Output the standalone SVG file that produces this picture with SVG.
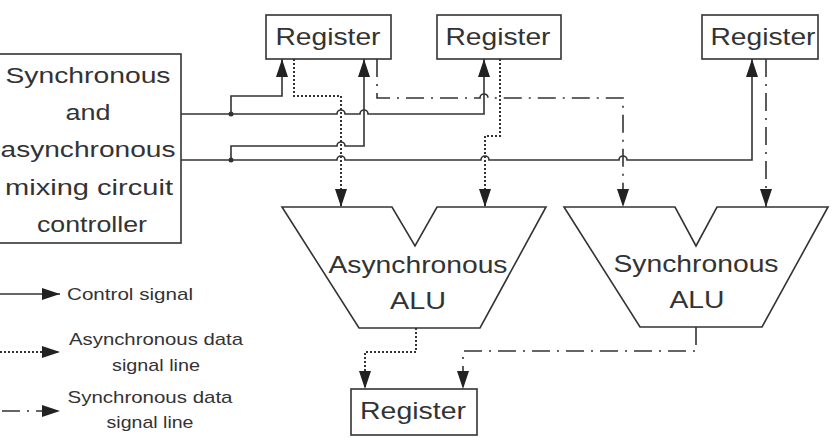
<svg xmlns="http://www.w3.org/2000/svg" width="838" height="438" viewBox="0 0 838 438">
<style>
text{font-family:"Liberation Sans",Arial,sans-serif;fill:#333}
.box{fill:#fff;stroke:#333;stroke-width:1.6}
.reg{font-size:24px}
.alu{font-size:24px}
.ctl{font-size:22px}
.leg{font-size:17px}
.solid{fill:none;stroke:#333;stroke-width:1.6}
.dot{fill:none;stroke:#333;stroke-width:2;stroke-dasharray:2,2}
.dd{fill:none;stroke:#333;stroke-width:1.6;stroke-dasharray:18,7,2,7}
</style>
<defs>
<marker id="ah" markerUnits="userSpaceOnUse" markerWidth="20" markerHeight="14" refX="18" refY="6" orient="auto"><path d="M0,0 L18,6 L0,12 Z" fill="#222"/></marker>
</defs>
<rect width="838" height="438" fill="#fff"/>

<g id="controller">
<rect class="box" x="-2" y="54" width="183" height="189"/>
<text class="ctl" x="88" y="83" text-anchor="middle" textLength="165" lengthAdjust="spacingAndGlyphs">Synchronous</text>
<text class="ctl" x="88" y="120" text-anchor="middle" textLength="45" lengthAdjust="spacingAndGlyphs">and</text>
<text class="ctl" x="88" y="157" text-anchor="middle" textLength="175" lengthAdjust="spacingAndGlyphs">asynchronous</text>
<text class="ctl" x="89" y="195" text-anchor="middle" textLength="168" lengthAdjust="spacingAndGlyphs">mixing circuit</text>
<text class="ctl" x="92" y="232" text-anchor="middle" textLength="110" lengthAdjust="spacingAndGlyphs">controller</text>
</g>

<g id="register1">
<rect class="box" x="266" y="15" width="125" height="44"/>
<text class="reg" x="328" y="45" text-anchor="middle" textLength="105" lengthAdjust="spacingAndGlyphs">Register</text>
</g>
<g id="register2">
<rect class="box" x="437" y="15" width="124" height="44"/>
<text class="reg" x="498" y="45" text-anchor="middle" textLength="105" lengthAdjust="spacingAndGlyphs">Register</text>
</g>
<g id="register3">
<rect class="box" x="702" y="15" width="116" height="44"/>
<text class="reg" x="763" y="45" text-anchor="middle" textLength="105" lengthAdjust="spacingAndGlyphs">Register</text>
</g>
<g id="register4">
<rect class="box" x="351" y="389" width="126" height="46"/>
<text class="reg" x="413" y="419" text-anchor="middle" textLength="106" lengthAdjust="spacingAndGlyphs">Register</text>
</g>

<g id="async-alu">
<polygon class="box" points="282,207 392,207 415,246 437,207 546,207 480,328 359,328"/>
<text class="alu" x="418" y="273" text-anchor="middle" textLength="179" lengthAdjust="spacingAndGlyphs">Asynchronous</text>
<text class="alu" x="418" y="309" text-anchor="middle" textLength="56" lengthAdjust="spacingAndGlyphs">ALU</text>
</g>
<g id="sync-alu">
<polygon class="box" points="564,207 675,207 696,246 717,207 828,207 762,327 640,327"/>
<text class="alu" x="696" y="272" text-anchor="middle" textLength="165" lengthAdjust="spacingAndGlyphs">Synchronous</text>
<text class="alu" x="697" y="308" text-anchor="middle" textLength="55" lengthAdjust="spacingAndGlyphs">ALU</text>
</g>

<g id="connectors">
<path class="solid" d="M181,114 H337 a4,4 0 0 1 8,0 H360 a4,4 0 0 1 8,0 H484 V59" marker-end="url(#ah)"/>
<path class="solid" d="M231,114 V96 H282 V59" marker-end="url(#ah)"/>
<path class="solid" d="M181,160 H337 a4,4 0 0 1 8,0 H481 a4,4 0 0 1 8,0 H619 a4,4 0 0 1 8,0 H752 V59" marker-end="url(#ah)"/>
<path class="solid" d="M231,160 V146 H337 a4,4 0 0 1 8,0 H364 V59" marker-end="url(#ah)"/>
<circle cx="231" cy="114" r="2.5" fill="#333"/>
<circle cx="231" cy="160" r="2.5" fill="#333"/>
<path class="dot" d="M294,59 V96 H341 V207" marker-end="url(#ah)"/>
<path class="dot" d="M500,59 V136 H485 V207" marker-end="url(#ah)"/>
<path class="dd" d="M377,59 V98 H480 a4,4 0 0 1 8,0 H623 V207" marker-end="url(#ah)"/>
<path class="dd" d="M766,59 V207" marker-end="url(#ah)"/>
<path class="dot" d="M416,328 V352 H365 V389" marker-end="url(#ah)"/>
<path class="dd" d="M696,327 V351 H463 V389" marker-end="url(#ah)"/>
</g>

<g id="legend">
<path class="solid" d="M0,294 H60" marker-end="url(#ah)"/>
<text class="leg" x="67" y="300" textLength="126" lengthAdjust="spacingAndGlyphs">Control signal</text>
<path class="dot" d="M0,352 H60" marker-end="url(#ah)"/>
<text class="leg" x="156" y="345" text-anchor="middle" textLength="174" lengthAdjust="spacingAndGlyphs">Asynchronous data</text>
<text class="leg" x="156" y="371" text-anchor="middle" textLength="88" lengthAdjust="spacingAndGlyphs">signal line</text>
<path class="dd" d="M2,411 H60" marker-end="url(#ah)"/>
<text class="leg" x="150" y="403" text-anchor="middle" textLength="165" lengthAdjust="spacingAndGlyphs">Synchronous data</text>
<text class="leg" x="150" y="428" text-anchor="middle" textLength="87" lengthAdjust="spacingAndGlyphs">signal line</text>
</g>
</svg>
